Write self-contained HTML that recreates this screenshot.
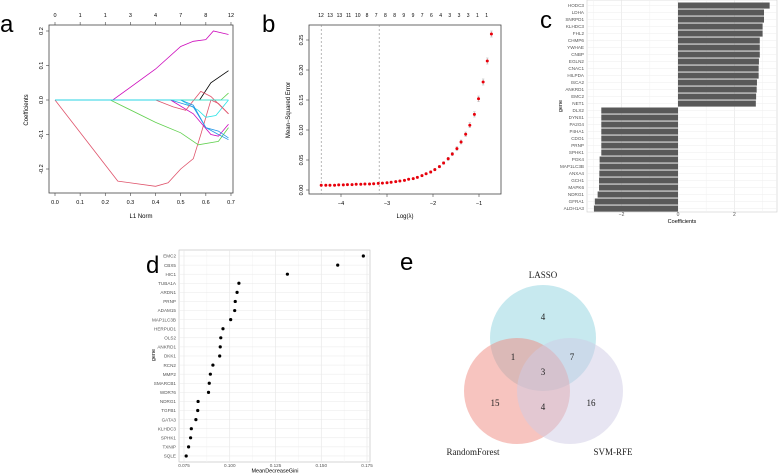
<!DOCTYPE html>
<html><head><meta charset="utf-8"><style>
body{margin:0;background:#fff}
svg{display:block;font-family:"Liberation Sans",sans-serif}
</style></head><body>
<svg id="fig" width="779" height="474" viewBox="0 0 779 474">
<g id="pa"></g>
<g id="pb"></g>
<g id="pc"></g>
<g id="pd"></g>
<g id="pe">
<text x="400" y="270" font-size="24">e</text>
<circle cx="543" cy="338" r="53" fill="#8fd3e0" fill-opacity="0.5"/>
<circle cx="517" cy="391" r="53" fill="#f08a80" fill-opacity="0.5"/>
<circle cx="570" cy="391" r="53" fill="#cfcbe6" fill-opacity="0.5"/>
<g font-family="Liberation Serif,serif" font-size="9" text-anchor="middle" fill="#222">
<text x="543" y="278">LASSO</text>
<text x="473" y="455">RandomForest</text>
<text x="613" y="455">SVM-RFE</text>
<text x="543" y="320">4</text>
<text x="513" y="360">1</text>
<text x="572" y="360">7</text>
<text x="543" y="375">3</text>
<text x="495" y="406">15</text>
<text x="543" y="410">4</text>
<text x="591" y="406">16</text>
</g></g>
</svg>
<script>
const NS="http://www.w3.org/2000/svg";
function mk(p,t,a,txt){const e=document.createElementNS(NS,t);for(const k in a)e.setAttribute(k,a[k]);if(txt!==undefined)e.textContent=txt;p.appendChild(e);return e;}

// ---- Panel a data ----
const aTopLabels=["0","1","1","3","4","7","8","12"];
const aXTicks=[0,0.1,0.2,0.3,0.4,0.5,0.6,0.7];
const aYTicks=[-0.2,-0.1,0,0.1,0.2];
const aColors=["#DF536B","#CD0BBC","#61D04F","#000000","#28E2E5","#2297E6","#CD0BBC","#DF536B","#61D04F","#2297E6","#28E2E5"];
const aSeriesX=[
[0,0.25,0.4,0.45,0.5,0.55,0.58,0.62,0.65,0.69],
[0,0.23,0.4,0.5,0.55,0.6,0.63,0.69],
[0,0.22,0.4,0.5,0.57,0.65,0.69],
[0.575,0.62,0.69],
[0,0.5,0.57,0.6,0.64,0.69],
[0,0.46,0.55,0.6,0.65,0.69],
[0.46,0.55,0.62,0.65,0.69],
[0.4,0.47,0.52,0.58,0.62,0.69],
[0.5,0.66,0.69],
[0.5,0.55,0.6,0.65,0.69],
[0,0.69]];
const aSeriesY=[
[0,-0.235,-0.25,-0.24,-0.2,-0.17,-0.1,0,-0.01,-0.04],
[0,0,0.09,0.155,0.17,0.175,0.2,0.19],
[0,0,-0.065,-0.095,-0.13,-0.12,-0.08],
[0,0.05,0.085],
[0,0,-0.03,-0.05,-0.045,0],
[0,0,-0.02,-0.08,-0.1,-0.115],
[0,-0.04,-0.1,-0.105,-0.07],
[0,-0.02,-0.03,0.025,0.01,-0.04],
[0,0,0.02],
[0,-0.015,-0.08,-0.09,-0.11],
[0,0]];
(function(){
const g=document.getElementById('pa');
const xa=v=>55+v*251.4, ya=v=>100-v*345;
mk(g,'text',{x:0,y:32,'font-size':24,},'a');
mk(g,'rect',{x:49,y:25,width:184,height:168,fill:'none',stroke:'#444','stroke-width':0.8,});
aSeriesX.forEach((xs,i)=>{
 const d=xs.map((x,j)=>(j?'L':'M')+xa(x).toFixed(1)+','+ya(aSeriesY[i][j]).toFixed(1)).join('');
 const p=mk(g,'path',{d:d,fill:'none',stroke:aColors[i],'stroke-width':0.8});
 
 
});
aXTicks.forEach((t,i)=>{
 mk(g,'line',{x1:xa(t),x2:xa(t),y1:193,y2:196,stroke:'#444','stroke-width':0.6});
 const tx=mk(g,'text',{x:xa(t),y:204,'font-size':5.5,'text-anchor':'middle'},t.toFixed(1));
 
 
 mk(g,'line',{x1:xa(t),x2:xa(t),y1:25,y2:22,stroke:'#444','stroke-width':0.6});
 const tt=mk(g,'text',{x:xa(t),y:17,'font-size':5.5,'text-anchor':'middle'},aTopLabels[i]);
 
 
});
aYTicks.forEach(t=>{
 mk(g,'line',{x1:46,x2:49,y1:ya(t),y2:ya(t),stroke:'#444','stroke-width':0.6});
 const tx=mk(g,'text',{x:43,y:ya(t),'font-size':5.5,'text-anchor':'middle',transform:`rotate(-90 43 ${ya(t)})`},t.toFixed(1));
 
 
});
mk(g,'text',{x:141,y:218,'font-size':6,'text-anchor':'middle',},'L1 Norm');
mk(g,'text',{x:28,y:110,'font-size':6,'text-anchor':'middle',transform:'rotate(-90 28 110)',},'Coefficients');
})();

// ---- Panel b data ----
const bTopLabels=["12","13","13","11","10","8","7","8","8","9","9","7","6","4","3","3","3","1","1"];
const bXTicks=[-4,-3,-2,-1];
const bYTicks=[0,0.05,0.1,0.15,0.2,0.25];
const bLogLambda=[-4.43,-4.33,-4.24,-4.14,-4.05,-3.95,-3.86,-3.76,-3.67,-3.57,-3.48,-3.38,-3.29,-3.19,-3.10,-3.00,-2.91,-2.81,-2.72,-2.62,-2.53,-2.43,-2.34,-2.24,-2.15,-2.05,-1.96,-1.86,-1.77,-1.67,-1.58,-1.48,-1.39,-1.29,-1.20,-1.10,-1.01,-0.91,-0.82,-0.73];
const bMSE=[.008,.008,.008,.008,.0085,.0085,.009,.009,.0095,.0095,.010,.010,.0105,.011,.0115,.012,.013,.014,.015,.016,.018,.019,.021,.024,.027,.030,.034,.039,.045,.052,.060,.069,.080,.093,.108,.126,.152,.180,.215,.260];
const bErr=[.001,.001,.001,.001,.001,.001,.001,.001,.001,.001,.001,.001,.001,.001,.001,.001,.001,.001,.001,.0012,.0012,.0013,.0014,.0015,.0016,.0018,.002,.002,.0022,.0025,.0028,.003,.0033,.0036,.004,.0043,.0046,.005,.005,.005];
const bVLines=[-4.43,-3.17];
(function(){
const g=document.getElementById('pb');
const xb=v=>341+(v+4)*46, yb=v=>190-v*600;
mk(g,'text',{x:262,y:32,'font-size':24,},'b');
mk(g,'rect',{x:309,y:25,width:192,height:169,fill:'none',stroke:'#444','stroke-width':0.8,});
bVLines.forEach(v=>{const l=mk(g,'line',{x1:xb(v),x2:xb(v),y1:25,y2:194,stroke:'#888','stroke-width':0.6,'stroke-dasharray':'2,2'});
 
 });
bLogLambda.forEach((v,i)=>{
 const x=xb(v),y=yb(bMSE[i]),e=bErr[i]*600;
 mk(g,'path',{d:`M${x},${y-e}V${y+e}M${x-1.2},${y-e}h2.4M${x-1.2},${y+e}h2.4`,stroke:'#aaa','stroke-width':0.5,fill:'none'});
 const c=mk(g,'circle',{cx:x,cy:y,r:1.5,fill:'#e8000b'});
 
 
});
bXTicks.forEach(t=>{
 mk(g,'line',{x1:xb(t),x2:xb(t),y1:194,y2:197,stroke:'#444','stroke-width':0.6});
 const tx=mk(g,'text',{x:xb(t),y:205,'font-size':5.5,'text-anchor':'middle'},String(t).replace('-','−'));
 
 
});
bYTicks.forEach(t=>{
 mk(g,'line',{x1:306,x2:309,y1:yb(t),y2:yb(t),stroke:'#444','stroke-width':0.6});
 const tx=mk(g,'text',{x:303,y:yb(t),'font-size':5.5,'text-anchor':'middle',transform:`rotate(-90 303 ${yb(t)})`},t.toFixed(2));
 
 
});
bTopLabels.forEach((s,i)=>{
 const tx=mk(g,'text',{x:321+i*9.2,y:17,'font-size':5,'text-anchor':'middle'},s);
 
 
});
mk(g,'text',{x:405,y:218,'font-size':6,'text-anchor':'middle',},'Log(λ)');
mk(g,'text',{x:290,y:110,'font-size':6,'text-anchor':'middle',transform:'rotate(-90 290 110)',},'Mean−Squared Error');
})();

// ---- Panel c data ----
const cGenes=["HODC3","LDHA","SNRPD1","KLHDC3","FHL2","CHMP6","YWHAE","CNBP","EGLN2","CNAC1","HILPDA","ISCA2","ANKRD1","EMC2","NET1","DLX2","DYNS1","PA2G4","P4HA1","CDO1","PRNP","SPHK1","PGK4","MAP1LC3B","ANXA4","GCH1","MAPK6","NDRG1","GFRA1","ALDH1A3"];
const cValues=[3.25,3.05,3.05,3.0,3.0,2.9,2.9,2.9,2.87,2.86,2.86,2.8,2.79,2.77,2.76,-2.72,-2.72,-2.72,-2.72,-2.72,-2.72,-2.72,-2.78,-2.78,-2.79,-2.8,-2.8,-2.85,-2.95,-2.98];
const cXTicks=[-2,0,2];
(function(){
const g=document.getElementById('pc');
const xc=v=>678+v*28.2, top=2, step=7.0;
mk(g,'text',{x:540,y:28,'font-size':24,},'c');
mk(g,'rect',{x:587,y:0,width:190,height:212,fill:'#fff',stroke:'#ccc','stroke-width':0.6});
[-3,-1,1,3].forEach(t=>mk(g,'line',{x1:xc(t),x2:xc(t),y1:0,y2:212,stroke:'#f2f2f2','stroke-width':0.5}));
cXTicks.forEach(t=>mk(g,'line',{x1:xc(t),x2:xc(t),y1:0,y2:212,stroke:'#e4e4e4','stroke-width':0.6}));
cGenes.forEach((n,i)=>{
 const y=top+i*step;
 mk(g,'line',{x1:587,x2:777,y1:y+step/2,y2:y+step/2,stroke:'#eeeeee','stroke-width':0.5});
 const v=cValues[i];
 const b=mk(g,'rect',{x:Math.min(xc(0),xc(v)),y:y+0.5,width:Math.abs(xc(v)-xc(0)),height:step-0.9,fill:'#595959'});
 
 
 const t=mk(g,'text',{x:584,y:y+step/2+1.7,'font-size':4.6,'text-anchor':'end',fill:'#555'},n);
 
 
});
cXTicks.forEach(t=>{
 const tx=mk(g,'text',{x:xc(t),y:216,'font-size':5,'text-anchor':'middle',fill:'#555'},String(t).replace('-','−'));
 
 
});
mk(g,'text',{x:682,y:223,'font-size':5.5,'text-anchor':'middle',},'Coefficients');
mk(g,'text',{x:562,y:106,'font-size':5.5,'text-anchor':'middle',transform:'rotate(-90 562 106)',},'gene');
})();

// ---- Panel d data ----
const dGenes=["EMC2","CBX5","HIC1","TUBA1A","ARDN1","PRNP","ADAM15","MAP1LC3B","HERPUD1","OLS2","ANKRD1","DKK1","RCN2","MMP2","SMARCB1","WDR76","NDRG1","TGFB1","GATA3","KLHDC3","SPHK1","TXNIP","SQLE"];
const dValues=[0.173,0.159,0.1315,0.105,0.104,0.103,0.1027,0.1005,0.0963,0.0951,0.0948,0.0945,0.0908,0.0894,0.0888,0.0884,0.0827,0.0825,0.0815,0.079,0.0786,0.0775,0.0762];
const dXTicks=[0.075,0.1,0.125,0.15,0.175];
(function(){
const g=document.getElementById('pd');
const xd=v=>184+(v-0.075)*1830, y0=256, step=9.09;
mk(g,'text',{x:146,y:273,'font-size':24,},'d');
mk(g,'rect',{x:179,y:250,width:191,height:212,fill:'#fff',stroke:'#bbb','stroke-width':0.6});
[0.0875,0.1125,0.1375,0.1625].forEach(t=>mk(g,'line',{x1:xd(t),x2:xd(t),y1:250,y2:462,stroke:'#f3f3f3','stroke-width':0.5}));
dXTicks.forEach(t=>mk(g,'line',{x1:xd(t),x2:xd(t),y1:250,y2:462,stroke:'#e4e4e4','stroke-width':0.6}));
dGenes.forEach((n,i)=>{
 const y=y0+i*step;
 mk(g,'line',{x1:179,x2:370,y1:y,y2:y,stroke:'#e8e8e8','stroke-width':0.5});
 const c=mk(g,'circle',{cx:xd(dValues[i]),cy:y,r:1.6,fill:'#000'});
 
 
 const t=mk(g,'text',{x:176,y:y+1.7,'font-size':4.6,'text-anchor':'end',fill:'#555'},n);
 
 
});
dXTicks.forEach(t=>{
 const tx=mk(g,'text',{x:xd(t),y:467,'font-size':4.6,'text-anchor':'middle',fill:'#555'},t.toFixed(3));
 
 
});
mk(g,'text',{x:275,y:472.5,'font-size':5.5,'text-anchor':'middle',},'MeanDecreaseGini');
mk(g,'text',{x:155,y:355,'font-size':5.5,'text-anchor':'middle',transform:'rotate(-90 155 355)',},'gene');
})();
</script>
</body></html>
